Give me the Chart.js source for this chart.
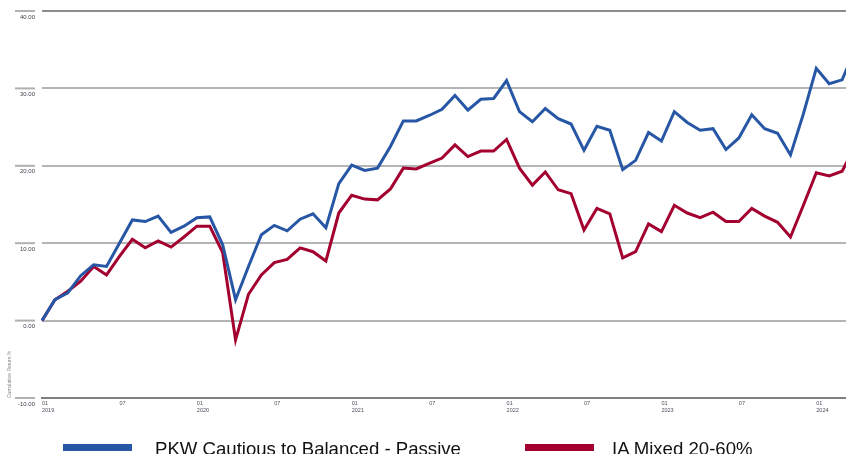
<!DOCTYPE html>
<html>
<head>
<meta charset="utf-8">
<script src="https://cdn.jsdelivr.net/npm/chart.js@4.4.1/dist/chart.umd.min.js"></script>
<style>
  html, body { margin: 0; padding: 0; background: #fff; overflow: hidden; }
  #wrap { position: relative; width: 846px; height: 454px; overflow: hidden; }
  #box { position: absolute; left: 0; top: 0; width: 856px; height: 454px; }
  .sw { position: absolute; height: 7px; width: 69px; top: 444px; }
  .lt { position: absolute; top: 438px; font: 18.6px 'Liberation Sans', Arial, sans-serif; color: #111; line-height: normal; white-space: nowrap; }
</style>
</head>
<body>
<div id="wrap">
  <div id="box"><canvas id="returnChart" width="856" height="454"></canvas></div>
  <div class="sw" style="left:63px;background:#2756a5"></div>
  <div class="lt" style="left:155px">PKW Cautious to Balanced - Passive</div>
  <div class="sw" style="left:525px;background:#a3002f"></div>
  <div class="lt" style="left:612px">IA Mixed 20-60%</div>
</div>
<script>
// months Jan 2019 .. Apr 2024
const years = [2019, 2020, 2021, 2022, 2023, 2024];
const months = [];
years.forEach(y => {
    for (let m = 1; m <= 12; m++) {
        if (y === 2024 && m > 4) break;
        months.push(y + '-' + String(m).padStart(2, '0'));
    }
});

const pkwPassive = [
    0, 2.7, 3.6, 5.8, 7.2, 7.0, 10.0, 13.0, 12.8, 13.5, 11.4, 12.2,
    13.3, 13.4, 9.8, 2.7, 7.0, 11.1, 12.3, 11.6, 13.1, 13.8, 12.0, 17.7,
    20.1, 19.4, 19.7, 22.5, 25.8, 25.8, 26.5, 27.3, 29.1, 27.2, 28.6, 28.7,
    31.0, 27.0, 25.7, 27.4, 26.1, 25.4, 22.0, 25.1, 24.6, 19.5, 20.7, 24.3,
    23.2, 27.0, 25.6, 24.6, 24.8, 22.1, 23.6, 26.6, 24.8, 24.2, 21.4, 26.7,
    32.6, 30.6, 31.1, 35.0
];
const iaMixed = [
    0, 2.7, 3.8, 5.1, 7.0, 5.9, 8.3, 10.5, 9.4, 10.3, 9.5, 10.8,
    12.2, 12.2, 8.8, -2.5, 3.4, 5.9, 7.5, 7.9, 9.4, 8.9, 7.7, 13.9,
    16.2, 15.7, 15.6, 17.0, 19.7, 19.6, 20.3, 21.0, 22.7, 21.2, 21.9, 21.9,
    23.4, 19.7, 17.5, 19.2, 16.9, 16.4, 11.7, 14.5, 13.8, 8.1, 8.9, 12.5,
    11.5, 14.9, 13.9, 13.3, 14.0, 12.8, 12.8, 14.5, 13.5, 12.7, 10.8, 14.9,
    19.1, 18.7, 19.3, 22.5
];
const yTicks = [-10, 0, 10, 20, 30, 40];

// short tick dashes left of the plot + rotated axis title
const sidePlugin = {
    id: 'side',
    afterDraw(chart) {
        const ctx = chart.ctx;
        const y = chart.scales.y;
        ctx.save();
        ctx.strokeStyle = '#b0b0b0';
        ctx.lineWidth = 2;
        yTicks.forEach(v => {
            const py = y.getPixelForValue(v);
            ctx.beginPath();
            ctx.moveTo(15, py);
            ctx.lineTo(35, py);
            ctx.stroke();
        });
        ctx.translate(10, 398);
        ctx.rotate(-Math.PI / 2);
        ctx.fillStyle = '#8a8a8a';
        ctx.font = '5px "Liberation Sans Narrow", "Liberation Sans", sans-serif';
        ctx.textAlign = 'left';
        ctx.textBaseline = 'middle';
        ctx.fillText('Cumulative Return %', 0, 0);
        ctx.restore();
    }
};

const ctx = document.getElementById('returnChart').getContext('2d');
new Chart(ctx, {
    type: 'line',
    data: {
        labels: months,
        datasets: [{
            label: 'PKW Cautious to Balanced - Passive',
            data: pkwPassive,
            borderColor: '#2756a5',
            borderWidth: 3,
            pointRadius: 0,
            tension: 0
        }, {
            label: 'IA Mixed 20-60%',
            data: iaMixed,
            borderColor: '#a3002f',
            borderWidth: 3,
            pointRadius: 0,
            tension: 0
        }]
    },
    options: {
        responsive: false,
        animation: false,
        layout: { padding: { top: 11, right: 1, bottom: 32, left: 0 } },
        plugins: { legend: { display: false }, tooltip: { enabled: false } },
        scales: {
            x: {
                grid: { display: false, drawTicks: false },
                border: { display: true, color: '#7f7f7f', width: 2 },
                ticks: {
                    autoSkip: false,
                    maxRotation: 0,
                    align: 'start',
                    padding: 2,
                    color: '#4a4f5a',
                    font: { family: '"Liberation Sans Narrow", "Liberation Sans", sans-serif', size: 5.5, lineHeight: 1.3 },
                    callback: function(val, i) {
                        const m = months[i].slice(5);
                        if (m === '01') return ['01', months[i].slice(0, 4)];
                        if (m === '07') return '07';
                        return null;
                    }
                },
                afterFit(scale) {
                    scale.height = 24;
                    scale.paddingLeft = 0;
                    scale.paddingRight = 0;
                }
            },
            y: {
                min: -10,
                max: 40,
                grid: {
                    drawTicks: false,
                    lineWidth: 2,
                    color: c => c.tick && c.tick.value === 40 ? '#8c8c8c' : '#b5b5b5'
                },
                border: { display: false },
                ticks: {
                    stepSize: 10,
                    padding: 7,
                    labelOffset: 6,
                    color: '#3a3f4a',
                    font: { family: '"Liberation Sans Narrow", "Liberation Sans", sans-serif', size: 6 },
                    callback: v => v.toFixed(2)
                },
                afterFit(scale) {
                    scale.width = 42;
                    scale.paddingTop = 0;
                    scale.paddingBottom = 0;
                }
            }
        }
    },
    plugins: [sidePlugin]
});
</script>
</body>
</html>
